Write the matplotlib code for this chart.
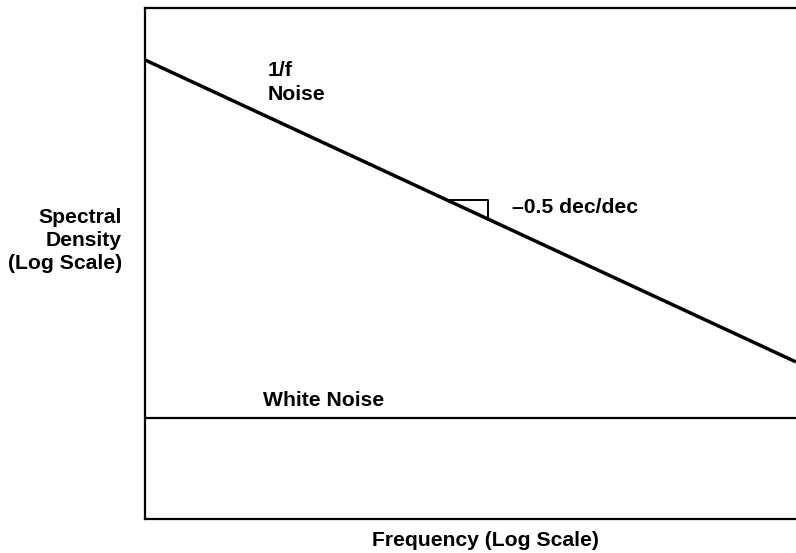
import matplotlib
matplotlib.use("Agg")
import matplotlib.pyplot as plt

# log-log sketch of 1/f noise vs white noise
freq = [1.0, 1.0e4]
flicker = [453.0, 4.53]
white = [1.93, 1.93]

# slope marker
tri_f = [71.7, 128.0, 128.0]
tri_s = [53.5, 53.5, 40.0]

W, H = 796, 553
fig = plt.figure(figsize=(W / 100, H / 100), dpi=100)
ax = fig.add_axes([145 / W, (H - 519) / H, (W - 145) / W + 0.01, 511 / H])

ax.plot(freq, flicker, color="black", lw=2.5, solid_capstyle="butt")
ax.plot(freq, white, color="black", lw=1.6)
ax.plot(tri_f, tri_s, color="black", lw=1.4)

ax.set_xscale("log")
ax.set_yscale("log")
ax.set_xlim(1.0, 10 ** (4 * (W - 145 + 8) / (W - 145)))
ax.set_ylim(10 ** -0.384, 1.0e3)
ax.set_xticks([])
ax.set_yticks([])
ax.xaxis.set_minor_locator(matplotlib.ticker.NullLocator())
ax.yaxis.set_minor_locator(matplotlib.ticker.NullLocator())
ax.spines["right"].set_visible(False)
for s in ["left", "top", "bottom"]:
    ax.spines[s].set_linewidth(1.6)

font = dict(family=["Liberation Sans", "DejaVu Sans"], fontweight="bold", fontsize=15.2)

def px(x, y):
    return x / W, 1 - y / H

fig.text(*px(268, 76), "1/f", ha="left", va="baseline", **font)
fig.text(*px(268, 100), "Noise", ha="left", va="baseline", **font)
fig.text(*px(263, 406), "White Noise", ha="left", va="baseline", **font)
fig.text(*px(512, 213), "\u20130.5 dec/dec", ha="left", va="baseline", **font)
fig.text(*px(485, 546), "Frequency (Log Scale)", ha="center", va="baseline", **font)
fig.text(*px(122, 223), "Spectral", ha="right", va="baseline", **font)
fig.text(*px(122, 246), "Density", ha="right", va="baseline", **font)
fig.text(*px(122, 269), "(Log Scale)", ha="right", va="baseline", **font)

fig.savefig("out.png", dpi=100)
